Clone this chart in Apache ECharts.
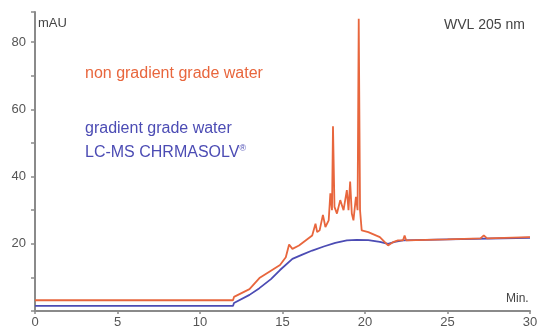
<!DOCTYPE html>
<html><head><meta charset="utf-8">
<script src="https://cdn.jsdelivr.net/npm/echarts@6/dist/echarts.min.js"></script>
<style>html,body{margin:0;padding:0;background:#fff}#c{width:543px;height:333px}</style>
</head><body><div id="c"></div>
<script>
const xTicks = [0, 5, 10, 15, 20, 25, 30];
const yTicks = [20, 40, 60, 80];
const orangeT = [0, 12.0, 12.06, 13.0, 13.6, 14.3, 14.85, 15.2, 15.4, 15.6, 16.0, 16.4, 16.8, 17.0, 17.1, 17.25, 17.45, 17.6, 17.8, 17.9, 18.0, 18.06, 18.15, 18.3, 18.5, 18.7, 18.9, 19.0, 19.1, 19.2, 19.3, 19.45, 19.55, 19.62, 19.7, 19.8, 20.2, 20.9, 21.2, 21.4, 21.7, 22.0, 22.3, 22.4, 22.5, 25, 27, 27.2, 27.4, 30];
const orangeV = [3.2, 3.2, 4.2, 6.5, 9.8, 12, 13.7, 16, 19.8, 18.5, 19.5, 21, 22.5, 26, 23.5, 24, 28.6, 25, 27, 35, 30, 55, 31, 29, 33, 30, 36, 30, 38.5, 29, 27, 34, 30, 87, 30, 24, 23.5, 22, 20.5, 19.5, 20.5, 21, 21, 22.5, 21, 21.3, 21.6, 22.5, 21.6, 22];
const blueT = [0, 12.0, 12.06, 13.0, 13.6, 14.3, 14.85, 15.6, 16.2, 16.8, 17.5, 18.2, 18.9, 19.5, 20.2, 20.9, 21.4, 21.8, 22.3, 25, 30];
const blueV = [1.5, 1.5, 2.4, 4.8, 6.8, 9.5, 12.2, 15.5, 16.8, 18, 19.2, 20.3, 21, 21.2, 21.1, 20.6, 20.0, 20.6, 21, 21.3, 21.8];

const chart = echarts.init(document.getElementById('c'), null, {renderer: 'canvas'});
const axisCol = '#8a8a8a';
const lblCol = '#555';
const orange = '#e8663d';
const blue = '#4c4cb4';
chart.setOption({
  animation: false,
  backgroundColor: '#ffffff',
  grid: {left: 35, right: 13, top: 12, bottom: 22, containLabel: false},
  xAxis: {
    type: 'value', min: 0, max: 30, interval: 5,
    axisLine: {show: true, lineStyle: {color: axisCol, width: 2}},
    axisTick: {show: true, length: 3, lineStyle: {color: axisCol, width: 1.5}},
    axisLabel: {color: lblCol, fontSize: 13, fontFamily: 'Liberation Sans', margin: 5,
      formatter: v => xTicks.includes(v) ? String(v) : ''},
    splitLine: {show: false}
  },
  yAxis: {
    type: 'value', min: 0, max: 89, interval: 10,
    axisLine: {show: true, lineStyle: {color: axisCol, width: 2}},
    axisTick: {show: true, length: 4, lineStyle: {color: axisCol, width: 1.5}},
    axisLabel: {color: lblCol, fontSize: 13, fontFamily: 'Liberation Sans', margin: 9,
      formatter: v => yTicks.includes(v) ? String(v) : ''},
    splitLine: {show: false}
  },
  series: [
    {type: 'line', data: blueT.map((t, i) => [t, blueV[i]]), showSymbol: false, symbol: 'none',
     lineStyle: {color: blue, width: 1.8}, z: 2},
    {type: 'line', data: orangeT.map((t, i) => [t, orangeV[i]]), showSymbol: false, symbol: 'none',
     lineStyle: {color: orange, width: 1.8}, z: 3}
  ],
  graphic: [
    {type: 'text', left: 38, top: 17, style: {text: 'mAU', fill: '#444', font: '13px "Liberation Sans"'}},
    {type: 'text', left: 444, top: 18, style: {text: 'WVL 205 nm', fill: '#444', font: '14px "Liberation Sans"'}},
    {type: 'text', left: 506, top: 293, style: {text: 'Min.', fill: '#444', font: '12px "Liberation Sans"'}},
    {type: 'text', left: 85, top: 66, style: {text: 'non gradient grade water', fill: orange, font: '16px "Liberation Sans"'}},
    {type: 'text', left: 85, top: 121, style: {text: 'gradient grade water', fill: blue, font: '16px "Liberation Sans"'}},
    {type: 'text', left: 85, top: 144, style: {rich: {a: {fill: blue, font: '16px "Liberation Sans"'}, s: {fill: blue, font: '9px "Liberation Sans"', verticalAlign: 'top', padding: [0,0,8,0]}}, text: '{a|LC-MS CHRMASOLV}{s|®}'}}
  ]
});
</script></body></html>
